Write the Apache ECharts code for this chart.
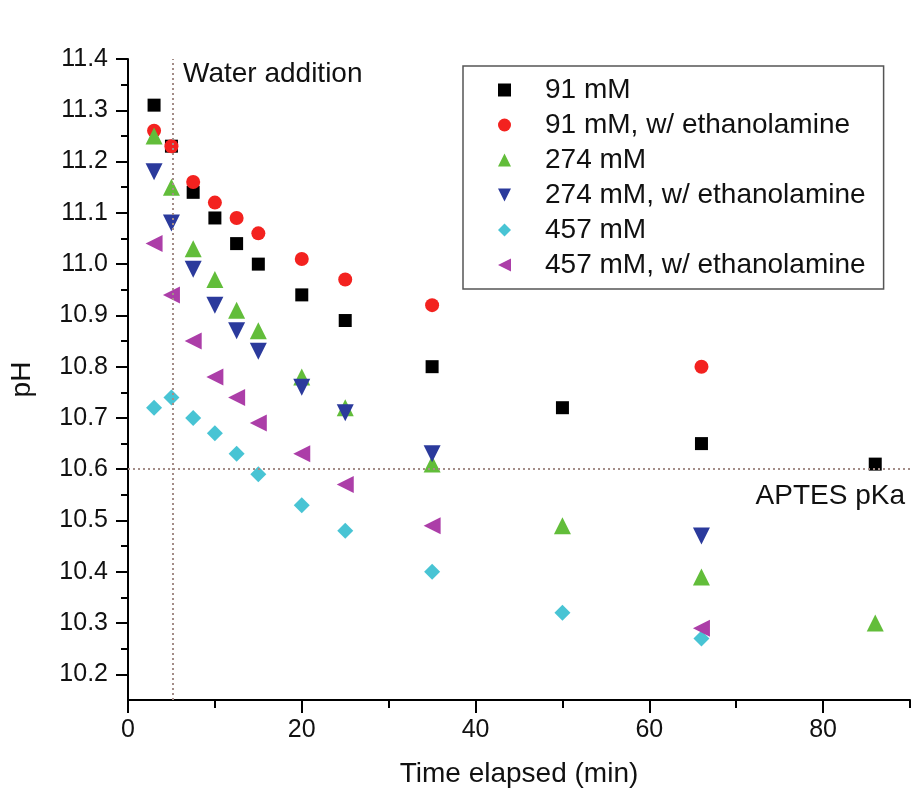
<!DOCTYPE html>
<html>
<head>
<meta charset="utf-8">
<script src="https://cdn.jsdelivr.net/npm/echarts@6/dist/echarts.min.js"></script>
<style>
  html, body { margin: 0; padding: 0; background: #fff; }
  #chart { width: 919px; height: 794px; }
</style>
</head>
<body>
<div id="chart"></div>
<script>
// 数据
const times = [3, 5, 7.5, 10, 12.5, 15, 20, 25, 35, 50, 66, 86]

const ph91 = [11.31, 11.23, 11.14, 11.09, 11.04, 11.00, 10.94, 10.89, 10.80, 10.72, 10.65, 10.61]
const ph91Eth = [11.26, 11.23, 11.16, 11.12, 11.09, 11.06, 11.01, 10.97, 10.92, null, 10.80, null]
const ph274 = [11.25, 11.15, 11.03, 10.97, 10.91, 10.87, 10.78, 10.72, 10.61, 10.49, 10.39, 10.30]
const ph274Eth = [11.18, 11.08, 10.99, 10.92, 10.87, 10.83, 10.76, 10.71, 10.63, null, 10.47, null]
const ph457 = [10.72, 10.74, 10.70, 10.67, 10.63, 10.59, 10.53, 10.48, 10.40, 10.32, 10.27, null]
const ph457Eth = [11.04, 10.94, 10.85, 10.78, 10.74, 10.69, 10.63, 10.57, 10.49, null, 10.29, null]

const seriesNames = [
  '91 mM',
  '91 mM, w/ ethanolamine',
  '274 mM',
  '274 mM, w/ ethanolamine',
  '457 mM',
  '457 mM, w/ ethanolamine'
]

// 刻度
const xMajorTicks = [0, 20, 40, 60, 80]
const xMinorTicks = [10, 30, 50, 70, 90]
const yMajorTicks = [10.2, 10.3, 10.4, 10.5, 10.6, 10.7, 10.8, 10.9, 11.0, 11.1, 11.2, 11.3, 11.4]
const yMinorTicks = [10.25, 10.35, 10.45, 10.55, 10.65, 10.75, 10.85, 10.95, 11.05, 11.15, 11.25, 11.35]

// 参考线
const waterTime = 5.2
const aptesPka = 10.6

const font = 'Liberation Sans'

function pairs(values) {
  const out = []
  values.forEach((v, i) => {
    if (v !== null) out.push([times[i], v])
  })
  return out
}

// 样式 (图例图标不跟随旋转，所以单独给 path)
const styles = [
  { symbol: 'rect', size: 13, rotate: 0, color: '#000000', icon: 'rect' },
  { symbol: 'circle', size: 14, rotate: 0, color: '#f3221f', icon: 'circle' },
  { symbol: 'triangle', size: 17, rotate: 0, color: '#62bd3a', icon: 'triangle' },
  { symbol: 'triangle', size: 17, rotate: 180, color: '#2b3a9c', icon: 'path://M0,0L10,0L5,10Z' },
  { symbol: 'diamond', size: 16, rotate: 0, color: '#48c4d4', icon: 'diamond' },
  { symbol: 'triangle', size: 17, rotate: 90, color: '#ac3ea8', icon: 'path://M10,0L10,10L0,5Z' }
]
const allData = [ph91, ph91Eth, ph274, ph274Eth, ph457, ph457Eth]

const series = allData.map((vals, i) => ({
  name: seriesNames[i],
  type: 'scatter',
  data: pairs(vals),
  symbol: styles[i].symbol,
  symbolSize: styles[i].size,
  symbolRotate: styles[i].rotate,
  itemStyle: { color: styles[i].color, opacity: 1 }
}))

// 虚线
series.push({
  type: 'scatter',
  data: [],
  silent: true,
  markLine: {
    silent: true,
    symbol: 'none',
    label: { show: false },
    lineStyle: { color: '#a38d88', type: [2, 3], width: 2 },
    data: [{ xAxis: waterTime }, { yAxis: aptesPka }]
  }
})

const axisLine = { show: true, onZero: false, lineStyle: { color: '#000', width: 2 } }

const option = {
  animation: false,
  backgroundColor: '#fff',
  grid: { left: 124, right: 9, top: 59, bottom: 94 },
  xAxis: [
    {
      type: 'value',
      min: 0,
      max: 90,
      name: 'Time elapsed (min)',
      nameLocation: 'middle',
      nameGap: 60,
      nameTextStyle: { fontFamily: font, fontSize: 28, color: '#111' },
      axisLine: axisLine,
      axisTick: { show: true, customValues: xMajorTicks, length: 13, lineStyle: { color: '#000', width: 2 } },
      axisLabel: { customValues: xMajorTicks, fontFamily: font, fontSize: 25, color: '#111', margin: 18 },
      splitLine: { show: false }
    },
    {
      type: 'value',
      position: 'bottom',
      min: 0,
      max: 90,
      axisLine: { show: false },
      axisTick: { show: true, customValues: xMinorTicks, length: 8, lineStyle: { color: '#000', width: 2 } },
      axisLabel: { show: false },
      splitLine: { show: false }
    }
  ],
  yAxis: [
    {
      type: 'value',
      min: 10.15,
      max: 11.4,
      name: 'pH',
      nameLocation: 'middle',
      nameGap: 92,
      nameTextStyle: { fontFamily: font, fontSize: 28, color: '#111' },
      axisLine: axisLine,
      axisTick: { show: true, customValues: yMajorTicks, length: 12, lineStyle: { color: '#000', width: 2 } },
      axisLabel: {
        customValues: yMajorTicks,
        fontFamily: font,
        fontSize: 25,
        color: '#111',
        margin: 20,
        formatter: (v) => v.toFixed(1)
      },
      splitLine: { show: false }
    },
    {
      type: 'value',
      position: 'left',
      min: 10.15,
      max: 11.4,
      axisLine: { show: false },
      axisTick: { show: true, customValues: yMinorTicks, length: 7, lineStyle: { color: '#000', width: 2 } },
      axisLabel: { show: false },
      splitLine: { show: false }
    }
  ],
  legend: {
    data: seriesNames.map((n, i) => ({ name: n, icon: styles[i].icon })),
    orient: 'vertical',
    left: 463,
    top: 66,
    itemWidth: 13,
    itemHeight: 13,
    itemGap: 7,
    padding: [10, 18, 10, 35],
    borderColor: '#555',
    borderWidth: 1.5,
    backgroundColor: '#fff',
    textStyle: { fontFamily: font, fontSize: 28, color: '#111', padding: [0, 0, 0, 29] }
  },
  graphic: {
    elements: [
      {
        type: 'text',
        left: 183,
        top: 60,
        style: { text: 'Water addition', font: '28px "Liberation Sans"', fill: '#111' }
      },
      {
        type: 'text',
        right: 14,
        top: 482,
        style: { text: 'APTES pKa', font: '28px "Liberation Sans"', fill: '#111' }
      }
    ]
  },
  series: series
}

const chart = echarts.init(document.getElementById('chart'))
chart.setOption(option)
</script>
</body>
</html>
